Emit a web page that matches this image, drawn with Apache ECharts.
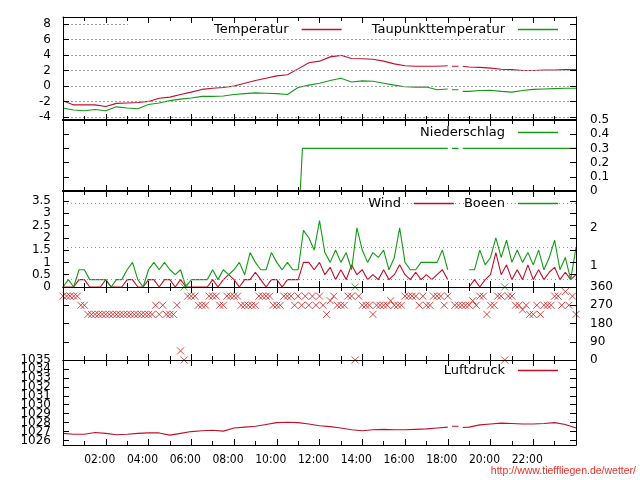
<!DOCTYPE html>
<html><head><meta charset="utf-8">
<script src="https://cdn.jsdelivr.net/npm/echarts@6/dist/echarts.min.js"></script>
<style>html,body{margin:0;padding:0;background:#fff}#c{width:640px;height:480px}</style>
</head><body><div id="c"></div>
<script>
// ---------- data ----------
const hourTicks = [0,2,4,6,8,10,12,14,16,18,20,22,24];
const hourLabels = ['','02:00','04:00','06:00','08:00','10:00','12:00','14:00','16:00','18:00','20:00','22:00',''];

// common time base (hours) for temperature, dew point and pressure
const tTimes = [0,0.5,1,1.5,2,2.5,3,3.5,4,4.5,5,5.5,6,6.5,7,7.5,8,8.5,9,9.5,10,10.5,11,11.5,12,12.5,13,13.5,14,14.5,15,15.5,16,16.5,17,17.5,18,
  18.1,18.2,18.5,18.6,18.7,19,19.5,20,20.5,21,21.5,22,22.5,23,23.5,24];
const temperature = [-1.9,-2.45,-2.45,-2.45,-2.65,-2.25,-2.2,-2.15,-2.0,-1.6,-1.45,-1.1,-0.8,-0.45,-0.3,-0.2,0.0,0.35,0.7,1.0,1.3,1.45,2.2,3.0,3.2,3.75,3.95,3.55,3.5,3.45,3.2,2.85,2.6,2.55,2.55,2.55,2.6,
  null,2.55,2.55,null,2.55,2.45,2.4,2.3,2.15,2.1,2.0,2.0,2.05,2.05,2.1,2.1];
const dewpoint = [-2.85,-3.1,-3.2,-3.05,-3.2,-2.7,-2.85,-2.95,-2.4,-2.2,-1.9,-1.7,-1.55,-1.35,-1.35,-1.3,-1.1,-1.0,-0.9,-0.95,-1.0,-1.1,-0.2,0.1,0.35,0.7,1.0,0.5,0.65,0.6,0.35,0.1,-0.1,-0.15,-0.15,-0.5,-0.4,
  null,-0.5,-0.5,null,-0.7,-0.7,-0.6,-0.55,-0.7,-0.8,-0.6,-0.45,-0.4,-0.35,-0.3,-0.3];
const pressure = [1026.8,1026.7,1026.7,1026.9,1026.8,1026.65,1026.7,1026.8,1026.85,1026.85,1026.6,1026.8,1027.0,1027.1,1027.15,1027.05,1027.4,1027.5,1027.6,1027.8,1028.0,1028.05,1028.0,1027.85,1027.65,1027.55,1027.4,1027.2,1027.1,1027.2,1027.25,1027.2,1027.2,1027.25,1027.3,1027.4,1027.5,
  null,1027.6,1027.6,null,1027.45,1027.5,1027.75,1027.85,1027.95,1027.9,1027.85,1027.85,1027.9,1028.0,1027.8,1027.4];

// precipitation (the zero stretch before 11:06 lies under the axis)
const pTimes = [11.1,11.2,18.0,18.1,18.2,18.5,18.6,18.7,24];
const precip = [0,0.3,0.3,null,0.3,0.3,null,0.3,0.3];

// wind, 15 minute steps
const windTimes = [];
for (let i = 0; i <= 96; i++) windTimes.push(i * 0.25);
const wind = [0,0,0,0.3,0.3,0,0,0,0.3,0,0,0,0.3,0.3,0,0,0.3,0.3,0,0.3,0.3,0,0.3,0,0,0,0,0,0.3,0,0.3,0.5,0.3,0,0.3,0.3,0.6,0.3,0,0.3,0.3,0,0.3,0.3,0.3,
  1.0,1.0,0.7,1.0,0.5,0.8,0.3,0.7,0.3,0.9,0.5,0.7,0.3,0.5,0.3,0.7,0.3,0.5,0.9,0.5,0.3,0.6,0.3,0.5,0.3,0.5,0.7,0.3,null,0.3,null,
  0,0.3,0,0.3,0.5,1.4,0.5,0.9,0.3,0.7,0.3,0.9,0.3,0.7,0.3,0.6,0.8,0.3,0.6,0.3,0.5];
const gusts = [0,0.3,0,0.7,0.7,0.3,0.3,0.3,0.3,0,0.3,0.3,0.7,1.0,0.3,0,0.7,1.0,0.7,1.0,0.7,0.5,0.7,0,0.3,0.3,0.3,0.3,0.7,0.3,0.7,0.5,0.7,1.0,0.5,1.4,1.0,0.7,0.7,1.4,1.0,0.7,1.0,0.7,0.7,
  2.3,2.0,1.5,2.7,1.4,1.0,1.5,1.0,1.4,0.7,2.4,1.5,1.0,1.4,1.2,1.5,0.7,1.2,2.4,1.0,0.7,0.7,1.0,1.0,1.0,1.0,1.5,0.7,null,0.7,null,
  0.7,0.7,1.5,0.9,1.2,2.0,1.2,1.9,1.0,1.5,1.0,1.4,0.9,1.5,0.7,1.2,1.9,0.7,1.2,0.3,1.6];

// wind direction, 10 minute steps
const dirTimes = [];
for (let i = 0; i <= 144; i++) dirTimes.push(i / 6);
const direction = [315,315,315,315,315,270,270,
  225,225,225,225,225,225,225,225,225,225,225,225,225,225,225,225,225,225,225,
  270,225,270,225,225,225,270,45,0,315,315,315,270,270,270,315,315,315,270,270,315,315,315,315,
  270,270,270,270,270,315,315,315,315,270,270,270,315,315,315,270,315,270,315,270,315,270,315,270,
  225,292.5,315,270,270,270,315,315,0,315,270,270,270,225,270,270,270,270,292.5,270,270,270,
  315,315,315,315,270,315,270,270,315,315,315,270,315,null,270,270,270,270,270,292.5,270,315,315,225,
  270,270,315,315,0,315,315,270,270,247.5,270,225,225,270,225,270,270,270,315,315,270,337.5,270,315,225];
const gustDirTimes = [34/6, 82/6, 124/6];
const gustDirection = [360,360,360];

const tempTicks = [-4,-2,0,2,4,6,8];
const windTicks = [0,0.5,1,1.5,2,2.5,3,3.5];
const bftGrid = [0.3,1.6,3.4];
const bftLabelPos = [0.85,2.4];
const bftLabels = ['1','2'];
const pressTicks = [1026,1027,1028,1029,1030,1031,1032,1033,1034,1035];
const pressLabelsEven = [1026,1028,1030,1032,1034];
const pressLabelsOdd = [1027,1029,1031,1033,1035];

// ---------- styling ----------
const FONT = '"DejaVu Sans", sans-serif';
const XFONT = '"DejaVu Sans Condensed", "DejaVu Sans", sans-serif';
const RED = '#c0102a';
const GREEN = '#149a14';
const BLACK = '#000';

const grids = [
  {top:17, height:103}, {top:120, height:71}, {top:191, height:96}, {top:287, height:73}, {top:360, height:85}
].map(g => ({left:63, right:64, top:g.top, height:g.height, show:false, containLabel:false, outerBoundsMode:'none'}));

const lineWidths = [[2,1],[2,2],[1,2],[1,1],[1,1]]; // [bottom, top]
const xAxes = [];
grids.forEach((g, gi) => {
  const base = {type:'value', gridIndex:gi, min:0, max:24, interval:2,
    axisTick:{show:true, inside:true, length:6, lineStyle:{color:BLACK}},
    minorTick:{show:true, splitNumber:2, length:4, lineStyle:{color:BLACK}},
    splitLine:{show:false}, minorSplitLine:{show:false}, z:5};
  xAxes.push(Object.assign({}, base, {position:'bottom',
    axisLine:{show:true, onZero:false, lineStyle:{color:BLACK, width:lineWidths[gi][0]}},
    axisLabel: gi === 4 ? {show:true, margin:9, fontSize:12, fontFamily:XFONT, color:BLACK, padding:[0,12,0,0],
      formatter: v => hourLabels[hourTicks.indexOf(v)] || ''} : {show:false}}));
  xAxes.push(Object.assign({}, base, {position:'top',
    axisLine:{show:true, onZero:false, lineStyle:{color:BLACK, width:lineWidths[gi][1]}},
    axisLabel:{show:false}}));
});

function yAx(gi, pos, min, max, extra) {
  return Object.assign({type:'value', gridIndex:gi, position:pos, min, max, z:5,
    axisLine:{show:true, onZero:false, lineStyle:{color:BLACK}},
    splitLine:{show:false}}, extra);
}
const lab = (m) => ({show:true, margin:m, fontSize:12, fontFamily:FONT, color:BLACK,
  showMinLabel:true, showMaxLabel:true, hideOverlap:false, formatter: v => String(+v.toFixed(2))});
const tick = {show:true, inside:true, length:6, lineStyle:{color:BLACK}};

const yAxes = [
  yAx(0,'left',-4.4,8.9,{axisTick:Object.assign({}, tick, {customValues:tempTicks}), axisLabel:Object.assign(lab(12), {customValues:tempTicks})}),
  yAx(0,'right',-4.4,8.9,{axisTick:Object.assign({}, tick, {customValues:tempTicks}), axisLabel:{show:false}}),
  yAx(1,'left',0,0.5,{interval:0.1, axisTick:tick, axisLabel:{show:false}}),
  yAx(1,'right',0,0.5,{interval:0.1, axisTick:tick, axisLabel:lab(14)}),
  yAx(2,'left',0,3.9,{axisTick:Object.assign({}, tick, {customValues:windTicks}), axisLabel:Object.assign(lab(12), {customValues:windTicks})}),
  yAx(2,'right',0,3.9,{axisTick:Object.assign({}, tick, {customValues:windTicks}),
    axisLabel:Object.assign(lab(14), {customValues:bftLabelPos, formatter: v => bftLabels[bftLabelPos.indexOf(v)] || ''})}),
  yAx(3,'left',0,360,{interval:90, axisTick:tick, axisLabel:{show:false}}),
  yAx(3,'right',0,360,{interval:90, axisTick:tick, axisLabel:lab(14)}),
  yAx(4,'left',1025.5,1035,{axisTick:Object.assign({}, tick, {customValues:pressTicks}), axisLabel:Object.assign(lab(12), {customValues:pressLabelsEven})}),
  yAx(4,'right',1025.5,1035,{axisTick:Object.assign({}, tick, {customValues:pressTicks}), axisLabel:{show:false}}),
  yAx(4,'left',1025.5,1035,{offset:0, axisLine:{show:false}, axisTick:{show:false},
    axisLabel:Object.assign(lab(12), {customValues:pressLabelsOdd})})
];

const pairs = (xs, ys) => xs.map((x, i) => [x, ys[i]]);
const lineSeries = (name, xi, yi, xs, ys, color) => ({
  name, type:'line', xAxisIndex:xi, yAxisIndex:yi, data:pairs(xs, ys),
  symbol:'none', showSymbol:false, connectNulls:false, color,
  lineStyle:{color, width:1.1}, itemStyle:{color}, z:3
});
const gridSeries = (name, xi, yi, vals, color, dash) => ({
  name, type:'line', xAxisIndex:xi, yAxisIndex:yi, data:[], symbol:'none', silent:true, z:1,
  markLine:{silent:true, symbol:['none','none'], label:{show:false}, animation:false,
    lineStyle:{color, width:1, type:dash}, data: vals.map(v => ({yAxis:v}))}
});
const X = 'path://M0,0L10,10M10,0L0,10';

const series = [
  gridSeries('tgrid', 0, 0, tempTicks, '#a0a0a0', [2,2]),
  lineSeries('Temperatur', 0, 0, tTimes, temperature, RED),
  lineSeries('Taupunkttemperatur', 0, 0, tTimes, dewpoint, GREEN),
  lineSeries('Niederschlag', 2, 2, pTimes, precip, GREEN),
  gridSeries('wgrid', 4, 4, bftGrid, '#8c9a8c', [1,3]),
  lineSeries('Wind', 4, 4, windTimes, wind, RED),
  lineSeries('Boeen', 4, 4, windTimes, gusts, GREEN),
  {name:'Boeenrichtung', type:'scatter', xAxisIndex:6, yAxisIndex:6, data:pairs(gustDirTimes, gustDirection),
    symbol:X, symbolSize:7, itemStyle:{color:'transparent', borderColor:GREEN, borderWidth:1}, z:3, clip:false},
  {name:'Windrichtung', type:'scatter', xAxisIndex:6, yAxisIndex:6, data:pairs(dirTimes, direction),
    symbol:X, symbolSize:7, itemStyle:{color:'transparent', borderColor:'#d01818', borderWidth:1}, z:4, clip:false},
  lineSeries('Luftdruck', 8, 8, tTimes, pressure, RED)
];

const item = (name, color) => ({name, icon:'rect', itemStyle:{color, borderWidth:0, opacity:1}});
const legendBase = {orient:'horizontal', align:'right', itemWidth:40, itemHeight:1.5,
  textStyle:{fontSize:13, fontFamily:FONT, color:BLACK, padding:[0,8,0,0]}, selectedMode:false, z:10};
const legends = [
  Object.assign({}, legendBase, {data:[item('Temperatur', RED), item('Taupunkttemperatur', GREEN)], right:70, top:23, itemGap:30,
    backgroundColor:'#fff', padding:[0,12,0,86]}),
  Object.assign({}, legendBase, {data:[item('Niederschlag', GREEN)], right:82, top:126, padding:0}),
  Object.assign({}, legendBase, {data:[item('Wind', RED), item('Boeen', GREEN)], right:82, top:197, itemGap:10, padding:0}),
  Object.assign({}, legendBase, {data:[item('Luftdruck', RED)], right:82, top:364, padding:0})
];

const chart = echarts.init(document.getElementById('c'), null, {renderer:'canvas'});
chart.setOption({
  animation:false,
  backgroundColor:'#fff',
  grid:grids,
  xAxis:xAxes,
  yAxis:yAxes,
  legend:legends,
  series,
  graphic:[{type:'text', right:4, bottom:3, silent:true,
    style:{text:'http://www.tieffliegen.de/wetter/', fill:'#e8302a', fontSize:10.5, fontFamily:'"Liberation Sans", Arial, sans-serif'}}]
});
</script></body></html>
